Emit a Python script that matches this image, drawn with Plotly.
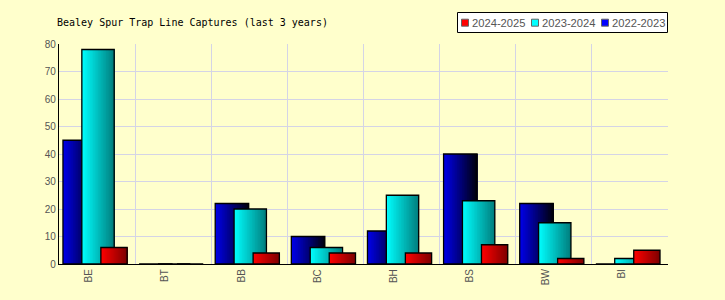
import plotly.graph_objects as go

categories = ["BE", "BT", "BB", "BC", "BH", "BS", "BW", "BI"]
s2022 = [45, 0, 22, 10, 12, 40, 22, 0]
s2023 = [78, 0, 20, 6, 25, 23, 15, 2]
s2024 = [6, 0, 4, 4, 4, 7, 2, 5]
y_ticks = [0, 10, 20, 30, 40, 50, 60, 70, 80]
legend_names = ["2024-2025", "2023-2024", "2022-2023"]
legend_colors = ["#FF0000", "#00FFFF", "#0000FF"]

series = [
    # name, values, offset, width, bright rgb, dark rgb
    ("2022-2023", s2022, -0.448, 0.44, (0, 0, 235), (0, 0, 10)),
    ("2023-2024", s2023, -0.20, 0.425, (0, 255, 255), (0, 125, 125)),
    ("2024-2025", s2024, 0.05, 0.345, (255, 0, 0), (125, 0, 0)),
]

W, H = 725, 300
ML, MR, MT, MB = 59, 57, 44, 36
PW, PH = W - ML - MR, H - MT - MB


def px_x(px):
    return (px - ML) / PW


def px_y(py):
    return (H - MB - py) / PH


N = 20
fig = go.Figure()
for name, vals, off, w, c0, c1 in series:
    sw = w / N
    for i in range(N):
        t = (i + 0.5) / N
        col = "rgb(%d,%d,%d)" % tuple(round(a + (b - a) * t) for a, b in zip(c0, c1))
        fig.add_trace(go.Bar(
            x=categories, y=vals, offset=off + i * sw, width=w - i * sw,
            marker=dict(color=col, line=dict(width=0)),
            showlegend=False, hoverinfo="skip", name=name))
    fig.add_trace(go.Bar(
        x=categories, y=vals, offset=off, width=w,
        marker=dict(color="rgba(0,0,0,0)", line=dict(color="black", width=1.3)),
        showlegend=False, name=name))

# legend box (drawn as layout decoration)
shapes = [dict(type="rect", xref="paper", yref="paper",
               x0=px_x(457.5), x1=px_x(667.5), y0=px_y(32.5), y1=px_y(12.5),
               fillcolor="white", line=dict(color="black", width=1), layer="above")]
annotations = []
for k, (nm, colr) in enumerate(zip(legend_names, legend_colors)):
    sx = 461.5 + 70 * k
    shapes.append(dict(type="rect", xref="paper", yref="paper",
                       x0=px_x(sx), x1=px_x(sx + 7), y0=px_y(26.2), y1=px_y(19.2),
                       fillcolor=colr, line=dict(color="#666666", width=1), layer="above"))
    annotations.append(dict(text=nm, xref="paper", yref="paper", x=px_x(sx + 8.5),
                            y=px_y(22.7), xanchor="left", yanchor="middle", showarrow=False,
                            font=dict(family="Liberation Sans", size=11.2, color="#555555")))

fig.update_layout(
    width=W, height=H,
    barmode="overlay", showlegend=False,
    paper_bgcolor="#FFFFCC", plot_bgcolor="#FFFFCC",
    margin=dict(l=ML, r=MR, t=MT, b=MB),
    title=dict(text="Bealey Spur Trap Line Captures (last 3 years)",
               x=57 / W, xanchor="left", xref="container",
               y=1 - 22 / H, yanchor="middle", yref="container",
               font=dict(family="DejaVu Sans Mono", size=10, color="black")),
    font=dict(family="Liberation Sans", size=10, color="#555555"),
    shapes=shapes, annotations=annotations,
)
fig.update_xaxes(
    type="category", categoryorder="array", categoryarray=categories,
    tickson="boundaries", showgrid=True, gridcolor="#D4D4E6", gridwidth=1,
    ticks="", tickangle=-90, ticklabelshift=-8,
    showline=True, linecolor="black", linewidth=1.3,
    range=[-0.5, len(categories) - 0.5],
    tickfont=dict(family="Liberation Sans", size=10, color="#555555"),
)
fig.update_yaxes(
    range=[0, 80], tickvals=y_ticks, showgrid=True, gridcolor="#D4D4E6", gridwidth=1,
    showline=True, linecolor="black", linewidth=1.3, zeroline=False, ticks="",
    tickfont=dict(family="Liberation Sans", size=10, color="#555555"),
)
fig.write_html("out.html")
